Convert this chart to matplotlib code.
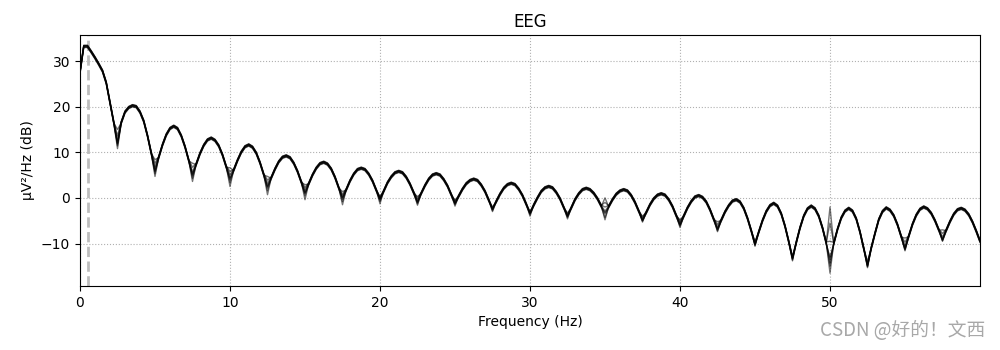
import numpy as np
import matplotlib
matplotlib.use("Agg")
import matplotlib.pyplot as plt

# Frequency grid (Hz), 0.25 Hz resolution from 0 to 60 Hz
freqs = np.linspace(0.0, 60.0, 241)

# Typical channel PSD (dB) on the grid above
psd_mean = [
    27.5, 33.2, 33.2, 32.0, 30.7, 29.3, 27.8, 25.2, 20.9, 16.5,
    11.8, 16.5, 18.8, 19.8, 20.2, 20.0, 18.8, 16.8, 13.6, 9.8,
    5.8, 8.9, 11.6, 13.8, 15.2, 15.7, 15.2, 13.6, 11.2, 8.2,
    4.8, 7.4, 9.7, 11.5, 12.7, 13.1, 12.6, 11.4, 9.4, 6.8,
    4.0, 6.1, 8.2, 10.0, 11.2, 11.6, 11.1, 9.8, 7.7, 5.1,
    2.2, 4.4, 6.3, 7.9, 8.9, 9.2, 8.8, 7.6, 5.8, 3.5,
    1.0, 3.1, 5.0, 6.5, 7.5, 7.8, 7.4, 6.3, 4.5, 2.2,
    -0.3, 1.8, 3.7, 5.2, 6.2, 6.5, 6.2, 5.2, 3.7, 1.7,
    -0.4, 1.5, 3.3, 4.6, 5.5, 5.8, 5.5, 4.5, 3.0, 1.1,
    -1.0, 1.0, 2.7, 4.1, 5.0, 5.3, 5.0, 4.0, 2.6, 0.7,
    -1.3, 0.4, 1.9, 3.1, 3.8, 4.1, 3.8, 2.8, 1.4, -0.5,
    -2.6, -0.8, 0.8, 2.1, 2.9, 3.2, 2.9, 1.9, 0.5, -1.4,
    -3.5, -1.6, 0.0, 1.4, 2.2, 2.5, 2.2, 1.2, -0.2, -2.1,
    -4.1, -2.2, -0.4, 0.9, 1.8, 2.1, 1.8, 1.0, -0.2, -1.8,
    -3.5, -1.9, -0.4, 0.8, 1.5, 1.8, 1.5, 0.5, -1.0, -2.9,
    -5.0, -3.2, -1.5, -0.2, 0.6, 0.9, 0.6, -0.4, -1.9, -3.9,
    -6.0, -4.0, -2.2, -0.8, 0.2, 0.5, 0.1, -0.9, -2.6, -4.7,
    -7.0, -4.9, -3.1, -1.7, -0.7, -0.4, -0.9, -2.3, -4.5, -7.2,
    -10.3, -7.5, -5.0, -3.0, -1.7, -1.2, -1.8, -3.5, -6.2, -9.6,
    -13.4, -9.8, -6.6, -4.0, -2.4, -1.8, -2.4, -4.0, -6.6, -9.9,
    -13.5, -10.0, -6.9, -4.4, -2.9, -2.3, -2.9, -4.6, -7.5, -11.1,
    -15.0, -11.0, -7.8, -4.8, -3.0, -2.2, -2.7, -3.9, -5.9, -8.5,
    -11.3, -8.4, -5.8, -3.8, -2.5, -2.0, -2.4, -3.4, -5.0, -7.0,
    -9.3, -7.1, -5.2, -3.6, -2.6, -2.3, -2.7, -3.7, -5.3, -7.3,
    -9.5,
]

# Spectral notches (Hz) where channels differ the most
notch_freqs = [2.5, 5.0, 7.5, 10.0, 12.5, 15.0, 17.5, 20.0, 22.5, 25.0,
               27.5, 30.0, 32.5, 35.0, 37.5, 40.0, 42.5, 45.0, 47.5, 50.0,
               52.5, 55.0, 57.5]

# Per-channel level offsets (dB)
channel_offsets = [0.0, 0.15, -0.15, 0.25, -0.25, 0.1, -0.1, 0.2]

# Per-channel deviation (dB) at each notch
notch_dev = [
    [0.0] * 23,
    [0.3, 0.4, 0.3, 0.5, 0.4, 0.3, 0.3, 0.2, 0.2, 0.2, 0.1, 0.2,
     0.2, 0.6, 0.2, 0.3, 0.3, 0.2, 0.2, -0.8, 0.2, 0.3, 0.3],
    [-0.4, -0.5, -0.5, -0.6, -0.6, -0.5, -0.5, -0.4, -0.3, -0.2, -0.2, -0.2,
     -0.2, -0.8, -0.1, -0.2, -0.2, -0.1, -0.2, -1.5, -0.1, -0.1, -0.1],
    [0.8, 1.0, 0.9, 1.1, 1.0, 0.8, 0.7, 0.3, 0.5, 0.3, 0.2, 0.2,
     0.3, 1.5, 0.4, 0.5, 0.6, 0.3, 0.3, 4.0, 0.4, 0.8, 0.7],
    [0.2, 0.1, 0.5, 0.2, 0.3, 0.1, 0.4, 0.1, 0.1, 0.1, 0.3, 0.1,
     0.1, 0.3, 0.1, 0.1, 0.2, 0.1, 0.1, 0.5, 0.2, 0.2, 0.2],
    [-1.0, -1.1, -1.2, -1.5, -1.5, -1.4, -1.2, -0.9, -0.6, -0.5, -0.4, -0.5,
     -0.5, -1.3, -0.3, -0.5, -0.4, -0.3, -0.4, -3.0, -0.3, -0.3, -0.2],
    [3.2, 2.6, 2.8, 2.6, 2.5, 1.9, 1.7, 0.7, 1.3, 0.8, 0.6, 0.5,
     0.8, 3.5, 1.0, 1.2, 1.8, 0.8, 0.6, 11.5, 1.1, 2.5, 2.3],
    [1.8, 1.8, 1.9, 1.8, 1.7, 1.3, 1.1, 0.5, 0.9, 0.6, 0.4, 0.4,
     0.5, 2.5, 0.7, 0.9, 1.2, 0.5, 0.4, 8.0, 0.7, 1.6, 1.5],
]

highpass_hz = 0.5

fig = plt.figure(figsize=(10, 3.5), dpi=100)
ax = fig.add_axes([0.08, 0.183, 0.90, 0.717])

base = np.asarray(psd_mean)
notch_idx = np.array([int(np.argmin(np.abs(freqs - f))) for f in notch_freqs])

for off, dev in zip(channel_offsets, notch_dev):
    trace = base + off
    trace[notch_idx] = base[notch_idx] + np.asarray(dev)
    ax.plot(freqs, trace, color="black", lw=1.0, alpha=0.55, zorder=3)

ax.axvline(highpass_hz, color="#bdbdbd", ls="--", lw=2, zorder=2)

ax.set_xlim(0, 60)
ax.set_ylim(-19.3, 35.7)
ax.set_xticks([0, 10, 20, 30, 40, 50])
ax.set_yticks([-10, 0, 10, 20, 30])
ax.grid(True, ls=":", color="#b0b0b0", lw=0.8)
ax.set_axisbelow(True)

ax.set_title("EEG", fontsize=12)
ax.set_xlabel("Frequency (Hz)")
ax.set_ylabel("µV²/Hz (dB)")

fig.text(0.985, 0.025, "CSDN @好的！文西", ha="right", va="bottom",
         fontsize=13.5, color="#a8a8a8",
         family=["Noto Sans CJK SC", "DejaVu Sans"])

fig.savefig("out.png", dpi=100)
